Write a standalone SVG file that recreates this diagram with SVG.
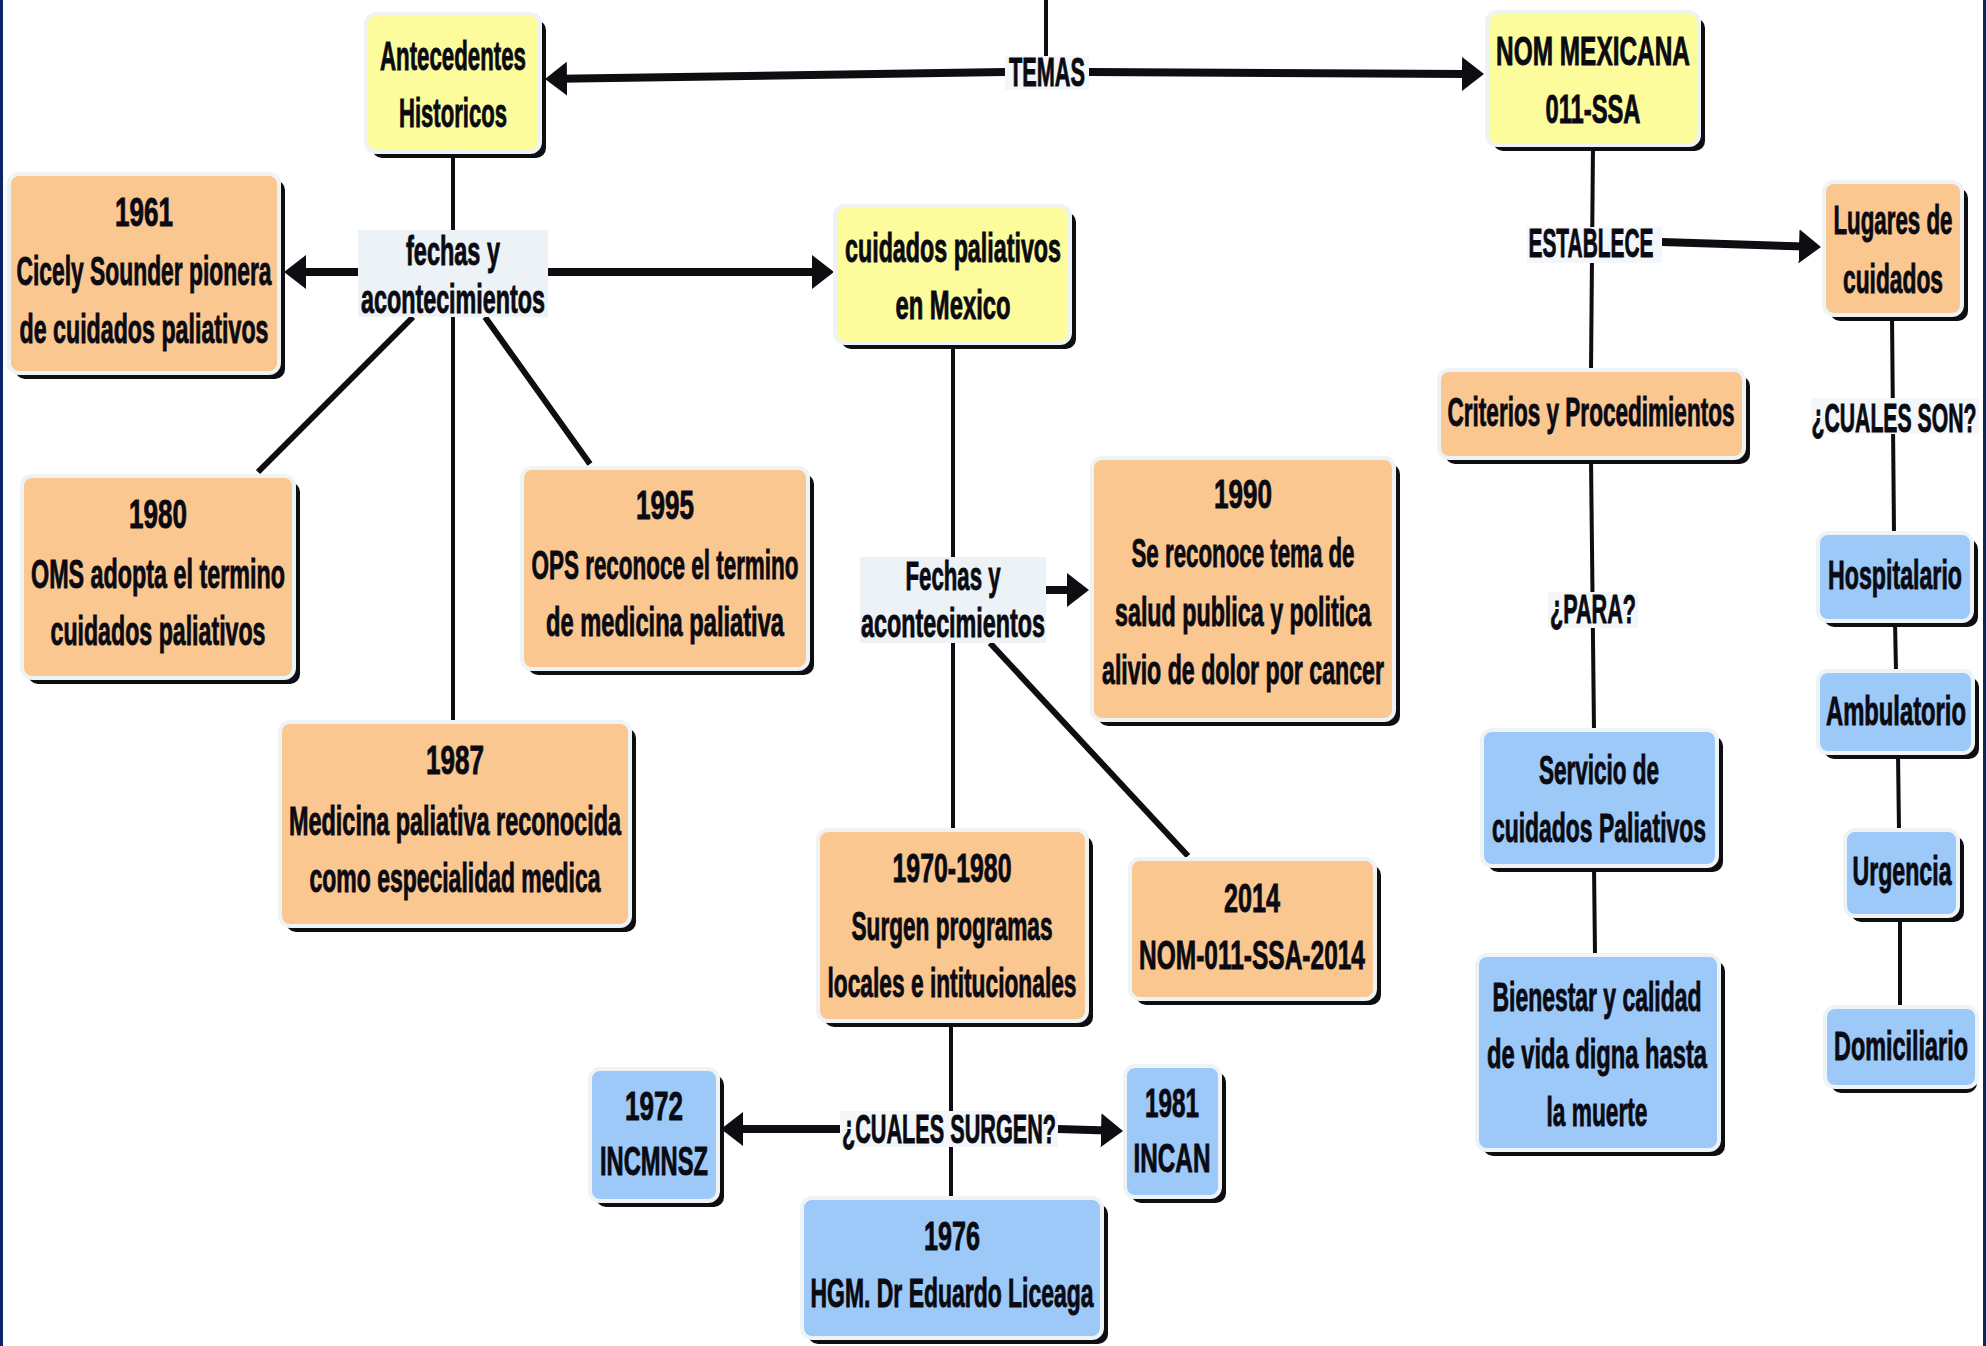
<svg xmlns="http://www.w3.org/2000/svg" width="1986" height="1346" viewBox="0 0 1986 1346">
<style>
.sh{fill:#0d0d12}
.by{fill:#fdfc9d;stroke:#eef3f5;stroke-width:4}
.bo{fill:#fbc791;stroke:#eef3f5;stroke-width:4}
.bb{fill:#9cc9f8;stroke:#eef3f5;stroke-width:4}
.lbl{fill:#ecf2f5}
.lblf{fill:#f3f7f9}
.t{font-family:"Liberation Sans",Arial,sans-serif;font-weight:bold;font-size:40px;fill:#0a0a12;text-anchor:middle;stroke:#0a0a12;stroke-width:0.9}
.thin{stroke:#0d0d12;stroke-width:4;fill:none}
.mid{stroke:#0d0d12;stroke-width:6;fill:none}
.thick{stroke:#0d0d12;stroke-width:8;fill:none;marker-end:url(#ah)}
</style>
<defs>
<marker id="ah" markerUnits="userSpaceOnUse" markerWidth="24" markerHeight="36" viewBox="0 0 24 36" refX="6" refY="17" orient="auto">
<path d="M0,0 L22,17 L0,34 Z" fill="#0d0d12"/>
</marker>
</defs>
<rect x="0" y="0" width="1986" height="1346" fill="#ffffff"/>
<rect x="0" y="0" width="3" height="1346" fill="#0b2566"/>
<rect x="1983" y="0" width="3" height="1346" fill="#0b2566"/>

<g id="connectors">
<line class="thin" x1="1046" y1="0" x2="1046" y2="58"/>
<line class="thin" x1="453" y1="152" x2="453" y2="230"/>
<line class="thin" x1="453" y1="317" x2="453" y2="722"/>
<line class="thin" x1="953" y1="343" x2="953" y2="557"/>
<line class="thin" x1="953" y1="643" x2="953" y2="830"/>
<line class="thin" x1="951" y1="1021" x2="951" y2="1198"/>
<line class="thin" x1="1593" y1="145" x2="1591" y2="370"/>
<line class="thin" x1="1591" y1="458" x2="1594" y2="730"/>
<line class="thin" x1="1594" y1="866" x2="1595" y2="955"/>
<line class="thin" x1="1892" y1="315" x2="1894" y2="533"/>
<line class="thin" x1="1895" y1="621" x2="1896" y2="671"/>
<line class="thin" x1="1898" y1="753" x2="1899" y2="830"/>
<line class="thin" x1="1900" y1="916" x2="1900" y2="1007"/>
<line class="mid" x1="413" y1="317" x2="258" y2="472"/>
<line class="mid" x1="485" y1="317" x2="590" y2="464"/>
<line class="mid" x1="990" y1="643" x2="1188" y2="856"/>
<path class="thick" d="M1005,72 L561,78.8"/>
<path class="thick" d="M1089,72 L1468,74"/>
<path class="thick" d="M358,272 L300,272"/>
<path class="thick" d="M548,272 L818,272"/>
<path class="thick" d="M1046,590 L1073,590"/>
<path class="thick" d="M1662,242 L1805,246.5"/>
<path class="thick" d="M840,1129 L737,1129"/>
<path class="thick" d="M1058,1129 L1107,1130.5"/>
</g>

<g id="lbl-temas"><rect class="lblf" x="1005" y="56" width="84" height="34"/><text class="t" x="1047" y="86" textLength="76" lengthAdjust="spacingAndGlyphs">TEMAS</text></g>

<g id="ante"><rect class="sh" x="372" y="20" width="174" height="138" rx="10"/><rect class="by" x="366" y="14" width="174" height="138" rx="10"/>
<text class="t" x="453" y="70" textLength="146" lengthAdjust="spacingAndGlyphs">Antecedentes</text>
<text class="t" x="453" y="127" textLength="108" lengthAdjust="spacingAndGlyphs">Historicos</text></g>

<g id="nom"><rect class="sh" x="1493" y="18" width="212" height="133" rx="10"/><rect class="by" x="1487" y="12" width="212" height="133" rx="10"/>
<text class="t" x="1593" y="65" textLength="194" lengthAdjust="spacingAndGlyphs">NOM MEXICANA</text>
<text class="t" x="1593" y="123" textLength="95" lengthAdjust="spacingAndGlyphs">011-SSA</text></g>

<g id="n1961"><rect class="sh" x="15" y="180" width="270" height="199" rx="10"/><rect class="bo" x="9" y="174" width="270" height="199" rx="10"/>
<text class="t" x="144" y="226" textLength="58" lengthAdjust="spacingAndGlyphs">1961</text>
<text class="t" x="144" y="285" textLength="255" lengthAdjust="spacingAndGlyphs">Cicely Sounder pionera</text>
<text class="t" x="144" y="343" textLength="249" lengthAdjust="spacingAndGlyphs">de cuidados paliativos</text></g>

<g id="fechas1"><rect class="lbl" x="358" y="230" width="190" height="87"/>
<text class="t" x="453" y="265" textLength="94" lengthAdjust="spacingAndGlyphs">fechas y</text>
<text class="t" x="453" y="313" textLength="184" lengthAdjust="spacingAndGlyphs">acontecimientos</text></g>

<g id="cpm"><rect class="sh" x="841" y="212" width="235" height="137" rx="10"/><rect class="by" x="835" y="206" width="235" height="137" rx="10"/>
<text class="t" x="953" y="262" textLength="216" lengthAdjust="spacingAndGlyphs">cuidados paliativos</text>
<text class="t" x="953" y="319" textLength="115" lengthAdjust="spacingAndGlyphs">en Mexico</text></g>

<g id="n1980"><rect class="sh" x="28" y="482" width="272" height="202" rx="10"/><rect class="bo" x="22" y="476" width="272" height="202" rx="10"/>
<text class="t" x="158" y="528" textLength="58" lengthAdjust="spacingAndGlyphs">1980</text>
<text class="t" x="158" y="588" textLength="254" lengthAdjust="spacingAndGlyphs">OMS adopta el termino</text>
<text class="t" x="158" y="645" textLength="215" lengthAdjust="spacingAndGlyphs">cuidados paliativos</text></g>

<g id="n1995"><rect class="sh" x="528" y="474" width="286" height="201" rx="10"/><rect class="bo" x="522" y="468" width="286" height="201" rx="10"/>
<text class="t" x="665" y="519" textLength="58" lengthAdjust="spacingAndGlyphs">1995</text>
<text class="t" x="665" y="579" textLength="267" lengthAdjust="spacingAndGlyphs">OPS reconoce el termino</text>
<text class="t" x="665" y="636" textLength="238" lengthAdjust="spacingAndGlyphs">de medicina paliativa</text></g>

<g id="n1987"><rect class="sh" x="286" y="728" width="350" height="204" rx="10"/><rect class="bo" x="280" y="722" width="350" height="204" rx="10"/>
<text class="t" x="455" y="774" textLength="58" lengthAdjust="spacingAndGlyphs">1987</text>
<text class="t" x="455" y="835" textLength="332" lengthAdjust="spacingAndGlyphs">Medicina paliativa reconocida</text>
<text class="t" x="455" y="892" textLength="291" lengthAdjust="spacingAndGlyphs">como especialidad medica</text></g>

<g id="fechas2"><rect class="lbl" x="860" y="557" width="186" height="86"/>
<text class="t" x="953" y="590" textLength="95" lengthAdjust="spacingAndGlyphs">Fechas y</text>
<text class="t" x="953" y="637" textLength="184" lengthAdjust="spacingAndGlyphs">acontecimientos</text></g>

<g id="n1990"><rect class="sh" x="1098" y="464" width="302" height="262" rx="10"/><rect class="bo" x="1092" y="458" width="302" height="262" rx="10"/>
<text class="t" x="1243" y="508" textLength="58" lengthAdjust="spacingAndGlyphs">1990</text>
<text class="t" x="1243" y="567" textLength="223" lengthAdjust="spacingAndGlyphs">Se reconoce tema de</text>
<text class="t" x="1243" y="626" textLength="256" lengthAdjust="spacingAndGlyphs">salud publica y politica</text>
<text class="t" x="1243" y="684" textLength="282" lengthAdjust="spacingAndGlyphs">alivio de dolor por cancer</text></g>

<g id="n1970"><rect class="sh" x="824" y="836" width="269" height="191" rx="10"/><rect class="bo" x="818" y="830" width="269" height="191" rx="10"/>
<text class="t" x="952" y="882" textLength="119" lengthAdjust="spacingAndGlyphs">1970-1980</text>
<text class="t" x="952" y="940" textLength="201" lengthAdjust="spacingAndGlyphs">Surgen programas</text>
<text class="t" x="952" y="997" textLength="249" lengthAdjust="spacingAndGlyphs">locales e intitucionales</text></g>

<g id="n2014"><rect class="sh" x="1136" y="865" width="245" height="140" rx="10"/><rect class="bo" x="1130" y="859" width="245" height="140" rx="10"/>
<text class="t" x="1252" y="912" textLength="56" lengthAdjust="spacingAndGlyphs">2014</text>
<text class="t" x="1252" y="969" textLength="226" lengthAdjust="spacingAndGlyphs">NOM-011-SSA-2014</text></g>

<g id="surgen"><rect class="lblf" x="840" y="1111" width="218" height="36"/>
<text class="t" x="949" y="1143" textLength="214" lengthAdjust="spacingAndGlyphs">¿CUALES SURGEN?</text></g>

<g id="n1972"><rect class="sh" x="596" y="1075" width="128" height="132" rx="10"/><rect class="bb" x="590" y="1069" width="128" height="132" rx="10"/>
<text class="t" x="654" y="1120" textLength="58" lengthAdjust="spacingAndGlyphs">1972</text>
<text class="t" x="654" y="1175" textLength="108" lengthAdjust="spacingAndGlyphs">INCMNSZ</text></g>

<g id="n1981"><rect class="sh" x="1131" y="1072" width="95" height="131" rx="10"/><rect class="bb" x="1125" y="1066" width="95" height="131" rx="10"/>
<text class="t" x="1172" y="1117" textLength="54" lengthAdjust="spacingAndGlyphs">1981</text>
<text class="t" x="1172" y="1172" textLength="77" lengthAdjust="spacingAndGlyphs">INCAN</text></g>

<g id="n1976"><rect class="sh" x="808" y="1204" width="300" height="140" rx="10"/><rect class="bb" x="802" y="1198" width="300" height="140" rx="10"/>
<text class="t" x="952" y="1250" textLength="56" lengthAdjust="spacingAndGlyphs">1976</text>
<text class="t" x="952" y="1307" textLength="283" lengthAdjust="spacingAndGlyphs">HGM. Dr Eduardo Liceaga</text></g>

<g id="establece"><rect class="lblf" x="1527" y="227" width="135" height="36"/>
<text class="t" x="1591" y="257" textLength="125" lengthAdjust="spacingAndGlyphs">ESTABLECE</text></g>

<g id="lugares"><rect class="sh" x="1830" y="188" width="138" height="133" rx="10"/><rect class="bo" x="1824" y="182" width="138" height="133" rx="10"/>
<text class="t" x="1893" y="234" textLength="119" lengthAdjust="spacingAndGlyphs">Lugares de</text>
<text class="t" x="1893" y="293" textLength="100" lengthAdjust="spacingAndGlyphs">cuidados</text></g>

<g id="criterios"><rect class="sh" x="1445" y="376" width="305" height="88" rx="10"/><rect class="bo" x="1439" y="370" width="305" height="88" rx="10"/>
<text class="t" x="1591" y="426" textLength="287" lengthAdjust="spacingAndGlyphs">Criterios y Procedimientos</text></g>

<g id="cualesson"><rect class="lblf" x="1811" y="398" width="168" height="36"/>
<text class="t" x="1894" y="432" textLength="165" lengthAdjust="spacingAndGlyphs">¿CUALES SON?</text></g>

<g id="para"><rect class="lblf" x="1548" y="592" width="90" height="36"/>
<text class="t" x="1593" y="623" textLength="86" lengthAdjust="spacingAndGlyphs">¿PARA?</text></g>

<g id="servicio"><rect class="sh" x="1488" y="736" width="235" height="136" rx="10"/><rect class="bb" x="1482" y="730" width="235" height="136" rx="10"/>
<text class="t" x="1599" y="784" textLength="120" lengthAdjust="spacingAndGlyphs">Servicio de</text>
<text class="t" x="1599" y="842" textLength="214" lengthAdjust="spacingAndGlyphs">cuidados Paliativos</text></g>

<g id="bienestar"><rect class="sh" x="1483" y="961" width="242" height="195" rx="10"/><rect class="bb" x="1477" y="955" width="242" height="195" rx="10"/>
<text class="t" x="1597" y="1011" textLength="209" lengthAdjust="spacingAndGlyphs">Bienestar y calidad</text>
<text class="t" x="1597" y="1068" textLength="220" lengthAdjust="spacingAndGlyphs">de vida digna hasta</text>
<text class="t" x="1597" y="1126" textLength="101" lengthAdjust="spacingAndGlyphs">la muerte</text></g>

<g id="hosp"><rect class="sh" x="1824" y="539" width="154" height="88" rx="10"/><rect class="bb" x="1818" y="533" width="154" height="88" rx="10"/>
<text class="t" x="1895" y="589" textLength="134" lengthAdjust="spacingAndGlyphs">Hospitalario</text></g>

<g id="amb"><rect class="sh" x="1824" y="677" width="155" height="82" rx="10"/><rect class="bb" x="1818" y="671" width="155" height="82" rx="10"/>
<text class="t" x="1896" y="725" textLength="140" lengthAdjust="spacingAndGlyphs">Ambulatorio</text></g>

<g id="urg"><rect class="sh" x="1851" y="836" width="113" height="86" rx="10"/><rect class="bb" x="1845" y="830" width="113" height="86" rx="10"/>
<text class="t" x="1902" y="885" textLength="99" lengthAdjust="spacingAndGlyphs">Urgencia</text></g>

<g id="dom"><rect class="sh" x="1831" y="1013" width="146" height="80" rx="10"/><rect class="bb" x="1825" y="1007" width="152" height="80" rx="10"/>
<text class="t" x="1901" y="1060" textLength="134" lengthAdjust="spacingAndGlyphs">Domiciliario</text></g>
</svg>
